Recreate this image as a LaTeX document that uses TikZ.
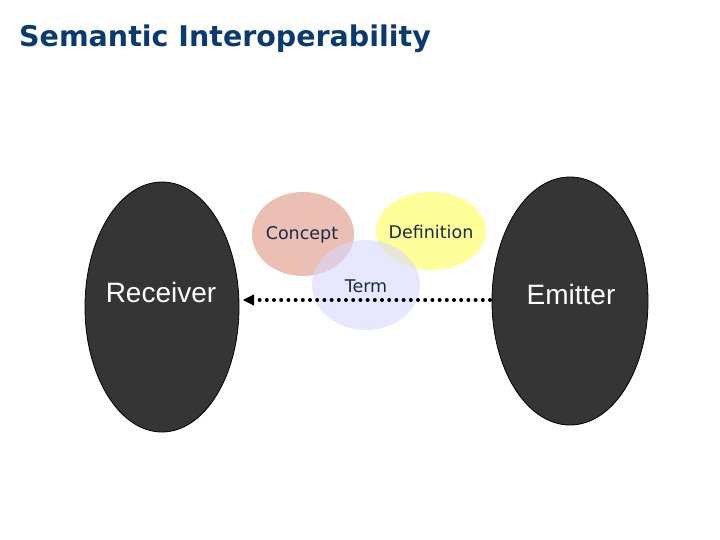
\documentclass[tikz,border=0pt]{standalone}
\usepackage{fontspec}
\setmainfont{DejaVu Sans}
\newfontfamily\arialf{Liberation Sans}
\usetikzlibrary{arrows.meta}
\definecolor{titleblue}{HTML}{0B3A6E}
\definecolor{darkfill}{HTML}{353535}
\definecolor{conceptc}{HTML}{E8B4A6}
\definecolor{defc}{HTML}{FFFF88}
\definecolor{termc}{HTML}{D8D8FF}
\definecolor{smalltext}{HTML}{1C2A48}
\begin{document}
\begin{tikzpicture}[x=1pt,y=-1pt,
  party/.style={draw=black,line width=0.8pt,fill=darkfill},
  smalllabel/.style={text=smalltext,font=\fontsize{17.5}{21}\selectfont},
  biglabel/.style={text=white,font=\arialf\fontsize{28}{33}\selectfont}]
\useasboundingbox (0,0) rectangle (720,540);
\fill[white] (0,0) rectangle (720,540);
\node[anchor=west,text=titleblue,font=\bfseries\fontsize{28.5}{34}\selectfont,inner sep=0pt] (title) at (19,39) {Semantic Interoperability};
% parties
\draw[party] (162,307) ellipse [x radius=77, y radius=125];
\node[biglabel] (receiver) at (161,292) {Receiver};
\draw[party] (570,301) ellipse [x radius=78, y radius=124];
\node[biglabel] (emitter) at (571,294) {Emitter};
% bubbles
\fill[conceptc,opacity=0.85] (303,234) ellipse [x radius=51, y radius=42];
\fill[defc,opacity=0.85] (431,231) ellipse [x radius=55, y radius=39];
\fill[termc,opacity=0.6] (366,285) ellipse [x radius=54, y radius=45];
\node[smalllabel] (concept) at (302,235) {Concept};
\node[smalllabel] (definition) at (431,232) {Definition};
\node[smalllabel] (term) at (366,286) {Term};
% arrow
\coordinate (from) at (490,300);
\coordinate (to) at (243,300);
\draw[line width=4pt,line cap=round,dash pattern=on 0pt off 7.2pt] (from) -- ([xshift=12pt]to);
\draw[-{Triangle[length=11pt,width=11pt]},line width=1pt] ([xshift=10pt]to) -- (to);
\end{tikzpicture}
\end{document}
